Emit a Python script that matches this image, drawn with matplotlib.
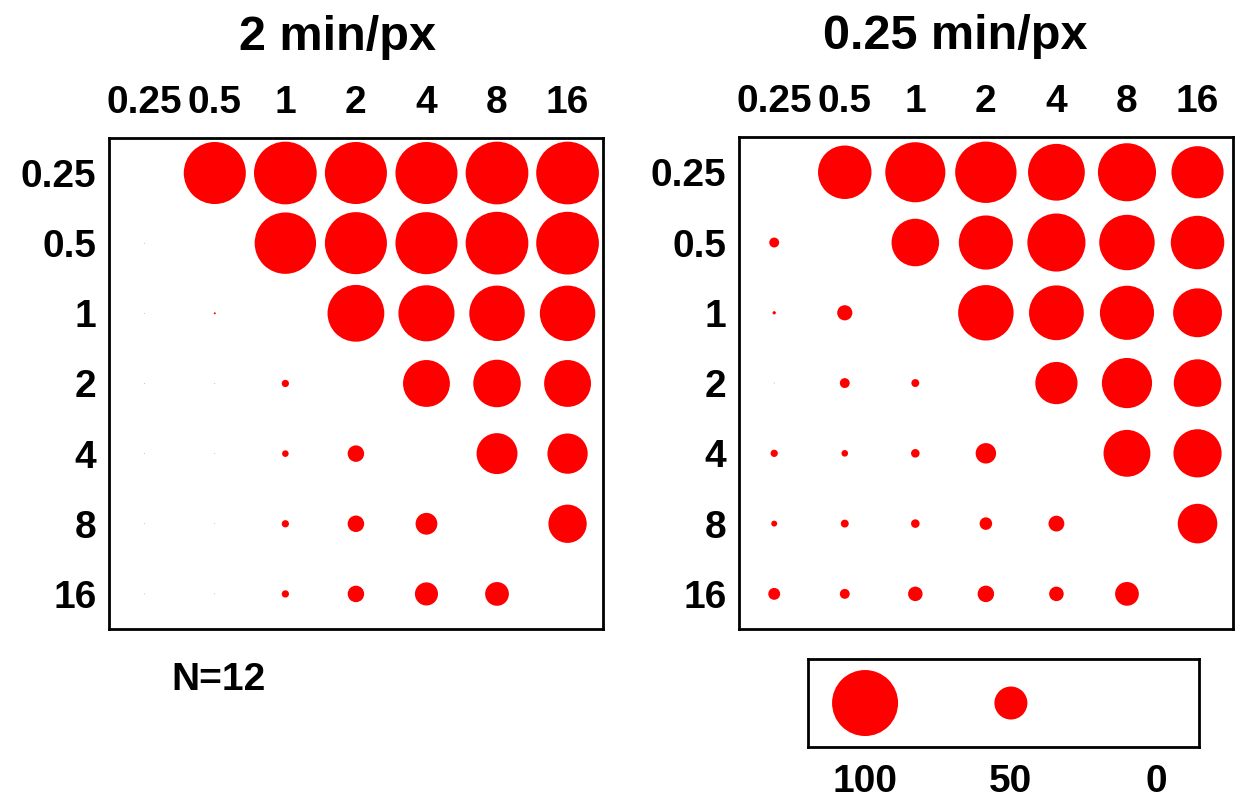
#!/usr/bin/env python3
# -*- coding: utf-8 -*-

"""Two bubble matrices (2 min/px and 0.25 min/px) with a size legend."""

import numpy as np
import matplotlib
matplotlib.use('Agg')
import matplotlib.pyplot as plt
from matplotlib import font_manager

installed = {f.name for f in font_manager.fontManager.ttflist}
narrow = 'Liberation Sans Narrow' in installed
print('narrow font:', narrow)
plt.rcParams['font.family'] = (['Liberation Sans Narrow'] if narrow else []) + \
    ['Liberation Sans', 'DejaVu Sans']
plt.rcParams['font.weight'] = 'bold'

LABELS = ['0.25', '0.5', '1', '2', '4', '8', '16']
NAN = np.nan

# rows = y label (top to bottom), columns = x label (left to right)
VALUES_2MIN = np.array([
    [NAN, 94, 95, 94, 94, 95, 95],
    [1, NAN, 93, 94, 94, 95, 95],
    [1, 3, NAN, 86, 85, 84, 84],
    [1, 1, 11, NAN, 71, 72, 71],
    [1, 1, 10, 25, NAN, 62, 61],
    [1, 1, 11, 25, 33, NAN, 58],
    [1, 1, 11, 25, 35, 36, NAN],
])

VALUES_025MIN = np.array([
    [NAN, 81, 91, 93, 86, 88, 79],
    [15, NAN, 72, 82, 88, 84, 81],
    [5, 23, NAN, 84, 83, 82, 74],
    [1, 15, 12, NAN, 64, 76, 72],
    [11, 10, 13, 31, NAN, 71, 73],
    [9, 12, 13, 19, 24, NAN, 60],
    [18, 15, 22, 25, 22, 36, NAN],
])

TITLES = ['2 min/px', '0.25 min/px']
LEGEND_VALUES = [100, 50, 0]
N_TEXT = 'N=12'

RED = '#ff0000'
DPI = 100
TICK_FS = 34 if narrow else 28
TITLE_FS = 42 if narrow else 35


def marker_area(v):
    # circle diameter grows linearly with the value (100 -> ~66 px)
    d_pt = 0.66 * np.asarray(v, dtype=float) * 72.0 / DPI
    return d_pt ** 2


def bubble_matrix(ax, values, title, title_x):
    n = len(LABELS)
    yy, xx = np.mgrid[0:n, 0:n]
    ok = ~np.isnan(values)
    ax.scatter(xx[ok], yy[ok], s=marker_area(values[ok]), c=RED,
               edgecolors='none', zorder=2)
    ax.set_xlim(-0.5, n - 0.5)
    ax.set_ylim(n - 0.5, -0.5)
    ax.xaxis.tick_top()
    ax.set_xticks(range(n))
    ax.set_yticks(range(n))
    ax.set_xticklabels(LABELS)
    ax.set_yticklabels(LABELS)
    ax.tick_params(axis='x', length=0, pad=12, labelsize=TICK_FS)
    ax.tick_params(axis='y', length=0, pad=9, labelsize=TICK_FS)
    for sp in ax.spines.values():
        sp.set_linewidth(2)
    ax.text(title_x, 1.204, title, transform=ax.transAxes, ha='center',
            va='center', fontsize=TITLE_FS, fontweight='bold')


fig = plt.figure(figsize=(12.44, 8.09), dpi=DPI)

ax1 = fig.add_axes([0.0876, 0.2225, 0.397, 0.607])
ax2 = fig.add_axes([0.594, 0.2225, 0.397, 0.608])
bubble_matrix(ax1, VALUES_2MIN, TITLES[0], 0.463)
bubble_matrix(ax2, VALUES_025MIN, TITLES[1], 0.437)

fig.text(219 / 1244, 1 - 680 / 809, N_TEXT, ha='center', va='center',
         fontsize=TICK_FS, fontweight='bold')

# size legend
axl = fig.add_axes([0.6495, 0.0766, 0.3143, 0.1088])
lx = [0.146, 0.519, 0.89]
axl.scatter(lx, [0.5] * len(lx), s=marker_area(LEGEND_VALUES), c=RED,
            edgecolors='none')
axl.set_xlim(0, 1)
axl.set_ylim(0, 1)
axl.set_yticks([])
axl.set_xticks(lx)
axl.set_xticklabels([str(v) for v in LEGEND_VALUES])
axl.tick_params(axis='x', length=0, pad=12, labelsize=TICK_FS)
for sp in axl.spines.values():
    sp.set_linewidth(2)

fig.savefig('out.png', dpi=DPI)
